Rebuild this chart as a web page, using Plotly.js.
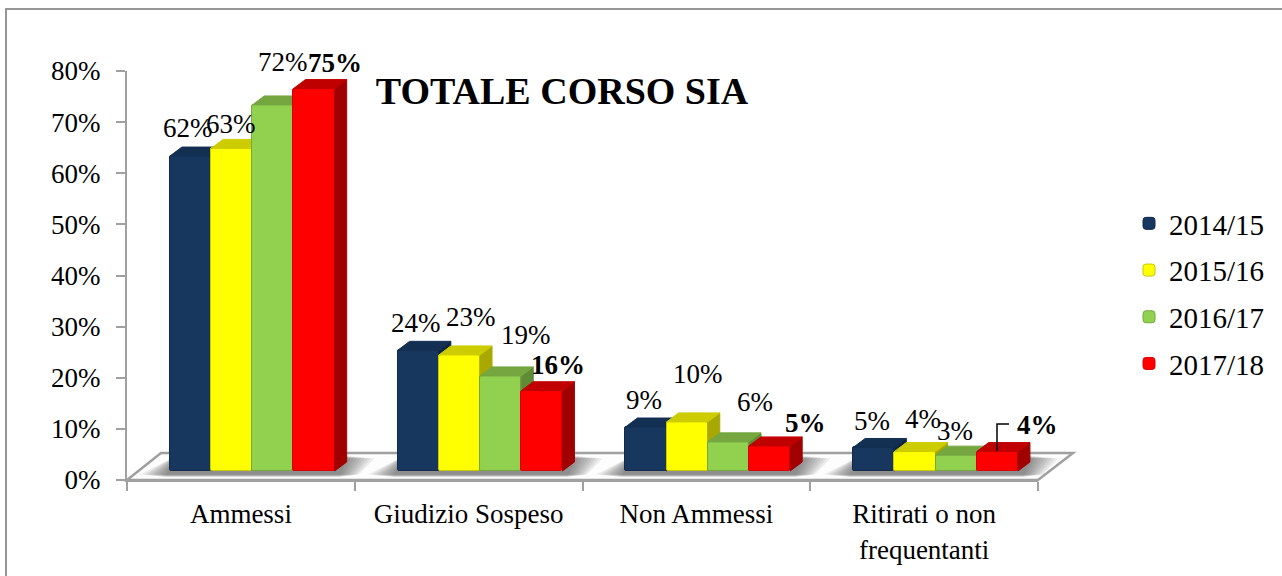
<!DOCTYPE html>
<html><head><meta charset="utf-8">
<script src="https://cdn.plot.ly/plotly-3.0.1.min.js"></script>
<style>html,body{margin:0;padding:0;background:#fff;overflow:hidden}</style>
</head><body><div id="chart" style="width:1282px;height:576px"></div>
<script>
const categories = ['Ammessi','Giudizio Sospeso','Non Ammessi','Ritirati o non<br>frequentanti'];
const seriesNames = ['2014/15','2015/16','2016/17','2017/18'];
const v2014 = [61.6,23.6,8.6,4.6];
const v2015 = [63.1,22.7,9.6,3.8];
const v2016 = [71.6,18.6,5.7,3.1];
const v2017 = [74.8,15.7,4.9,3.8];
const seriesValues = [v2014,v2015,v2016,v2017];

/* styling and layout, kept apart from the data */
const FONT = 'Liberation Serif, serif', FS = 27, AXIS = '#a0a0a0';
const front = ['#17375E','#FFFF00','#92D050','#FF0000'];
const edge  = ['#12294a','#c9c900','#76a83f','#d80000'];
const topC  = ['#132F52','#CCCC00','#75A640','#C00000'];
const sideC = ['#0F2440','#A8A800','#5F8A36','#A00000'];
const L=127,R=1038,T=71,B=480,W=1282,H=576;
const pxX=(R-L)/4, pxY=(B-T)/80;
const barW=41.2/pxX, barStart=-71/pxX, depthX=12/pxX, depthY=9/pxY, floorV=9/pxY;
/* label centres in page pixels, per series and category */
const labelPx = [
 [[188,128],[416,323],[644,400],[872,421]],
 [[231,124],[471,317],[698,374],[923,419]],
 [[283,62],[526,335],[755,402],[955,431]],
 [[335,63],[558,365],[805,423],[1037,425]]
];
const fx=p=>(p-L)/(R-L), fy=p=>(B-p)/(B-T);
const poly=pts=>'M'+pts.map(p=>fx(p[0])+','+fy(p[1])).join('L')+'Z';

const traces=[], annotations=[];
seriesValues.forEach((vals,s)=>{
  const n=s===0?'':String(s+1);
  const xa='x'+n, ya='y'+n, off=barStart+s*barW;
  const xs=vals.map((_,i)=>i);
  const tx=[],ty=[],sx=[],sy=[];
  vals.forEach((v,i)=>{
    const l=i+off, r=l+barW, t=v+floorV;
    tx.push(l,r,r+depthX,l+depthX,l,null);
    ty.push(t,t,t+depthY,t+depthY,t,null);
    sx.push(r,r+depthX,r+depthX,r,r,null);
    sy.push(t,t+depthY,floorV+depthY,floorV,t,null);
    annotations.push({xref:xa,yref:ya,x:l+barW/2,y:t,showarrow:false,
      text:(s===3?'<b>':'')+Math.round(v)+'%'+(s===3?'</b>':''),
      font:{family:FONT,size:FS,color:'#000'},xanchor:'center',yanchor:'middle',
      xshift:labelPx[s][i][0]-(L+(l+barW/2+0.5)*pxX),
      yshift:(B-t*pxY)-labelPx[s][i][1]});
  });
  traces.push({type:'bar',x:xs,y:vals,base:floorV,width:barW,offset:off,name:seriesNames[s],
    xaxis:xa,yaxis:ya,legendgroup:seriesNames[s],hoverinfo:'skip',
    marker:{color:front[s],line:{color:edge[s],width:1}}});
  traces.push({type:'scatter',mode:'lines',x:sx,y:sy,fill:'toself',fillcolor:sideC[s],
    line:{color:sideC[s],width:1},xaxis:xa,yaxis:ya,showlegend:false,hoverinfo:'skip',legendgroup:seriesNames[s]});
  traces.push({type:'scatter',mode:'lines',x:tx,y:ty,fill:'toself',fillcolor:topC[s],
    line:{color:topC[s],width:1},xaxis:xa,yaxis:ya,showlegend:false,hoverinfo:'skip',legendgroup:seriesNames[s]});
});

const paperShape=(path,o)=>Object.assign({type:'path',xref:'paper',yref:'paper',path,layer:'below',line:{width:0}},o);
const shapes=[];
/* outer frame */
shapes.push(paperShape(poly([[6,9],[1290,9],[1290,590],[6,590]]),{line:{color:'#969696',width:2},fillcolor:'rgba(0,0,0,0)'}));
/* floor */
shapes.push(paperShape(poly([[L,B],[161,453],[1073,453],[R,B]]),{fillcolor:'#fdfdfd',line:{color:AXIS,width:2.5}}));
/* soft floor shadow around each bar group */
[0,1,2,3].forEach(c=>{
  const a=169+c*228, b=346+c*228;
  for(let k=0;k<9;k++){
    const g=2+k*3;
    shapes.push(paperShape(poly([[a-g-3,477-k*0.3],[a+10-g*0.3,456+k*0.3],[b+g*1.1,456+k*0.3],[b-8+g*0.8,477-k*0.3]]),{fillcolor:'rgba(60,60,60,0.085)'}));
  }
});
/* leader line of the last label */
shapes.push({type:'path',xref:'paper',yref:'paper',layer:'above',path:'M'+fx(997)+','+fy(451)+'L'+fx(997)+','+fy(424)+'L'+fx(1009)+','+fy(424),line:{color:'#000',width:1.5}});

const layout={
  width:W,height:H,autosize:false,paper_bgcolor:'#fff',plot_bgcolor:'rgba(0,0,0,0)',
  margin:{l:L,r:W-R,t:T,b:H-B,pad:0,autoexpand:false},
  font:{family:FONT,size:FS,color:'#000'},
  title:{text:'<b>TOTALE CORSO SIA</b>',x:562/W,xanchor:'center',y:1-91/H,yanchor:'middle',font:{family:FONT,size:38,color:'#000'}},
  xaxis:{type:'linear',range:[-0.5,3.5],tickmode:'array',tickvals:[0,1,2,3],ticktext:categories,ticks:'',ticklen:0,
    ticklabelstandoff:9,showgrid:false,zeroline:false,showline:true,linecolor:AXIS,linewidth:2,
    tickfont:{family:FONT,size:FS,color:'#000'},
    minor:{tickmode:'array',tickvals:[-0.5,0.5,1.5,2.5,3.5],ticks:'outside',ticklen:9,tickwidth:2,tickcolor:AXIS,showgrid:false}},
  yaxis:{range:[0,80],tickmode:'array',tickvals:[0,10,20,30,40,50,60,70,80],ticktext:['0%','10%','20%','30%','40%','50%','60%','70%','80%'],
    ticks:'outside',ticklen:9,tickwidth:2,tickcolor:AXIS,showgrid:false,zeroline:false,showline:true,linecolor:AXIS,linewidth:2,
    ticklabelstandoff:10,tickfont:{family:FONT,size:FS,color:'#000'}},
  legend:{x:fx(1129),xanchor:'left',y:fy(198),yanchor:'top',font:{family:FONT,size:29,color:'#000'},
    traceorder:'grouped',tracegroupgap:6,bgcolor:'rgba(0,0,0,0)',itemclick:false,itemdoubleclick:false},
  bargap:0,barcornerradius:2,shapes,annotations,showlegend:true
};
[2,3,4].forEach(n=>{
  layout['xaxis'+n]={overlaying:'x',range:[-0.5,3.5],visible:false,fixedrange:true};
  layout['yaxis'+n]={overlaying:'y',range:[0,80],visible:false,fixedrange:true};
});
Plotly.newPlot('chart',traces,layout,{displayModeBar:false});
</script></body></html>
